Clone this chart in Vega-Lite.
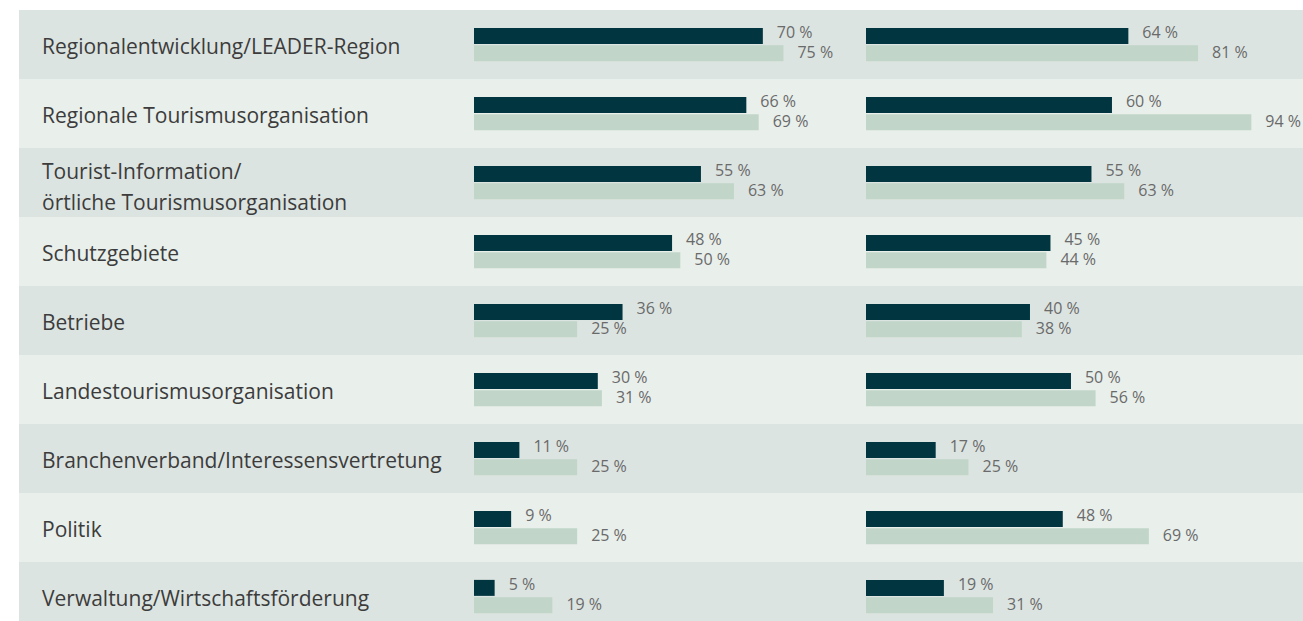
{
  "$schema": "https://vega.github.io/schema/vega-lite/v6.json",
  "padding": {"left": 19, "top": 10, "right": 0, "bottom": 0},
  "background": "#ffffff",
  "config": {
    "view": {"stroke": null},
    "concat": {"spacing": 0},
    "font": "Open Sans",
    "text": {"font": "Open Sans"}
  },
  "datasets": {
    "cats": [
      {"cat": "Regionalentwicklung/LEADER-Region"},
      {"cat": "Regionale Tourismusorganisation"},
      {"cat": "Tourist-Information/\nörtliche Tourismusorganisation"},
      {"cat": "Schutzgebiete"},
      {"cat": "Betriebe"},
      {"cat": "Landestourismusorganisation"},
      {"cat": "Branchenverband/Interessensvertretung"},
      {"cat": "Politik"},
      {"cat": "Verwaltung/Wirtschaftsförderung"}
    ],
    "vals": [
      {"cat": "Regionalentwicklung/LEADER-Region", "panel": "links", "series": "A", "value": 70},
      {"cat": "Regionalentwicklung/LEADER-Region", "panel": "links", "series": "B", "value": 75},
      {"cat": "Regionale Tourismusorganisation", "panel": "links", "series": "A", "value": 66},
      {"cat": "Regionale Tourismusorganisation", "panel": "links", "series": "B", "value": 69},
      {"cat": "Tourist-Information/\nörtliche Tourismusorganisation", "panel": "links", "series": "A", "value": 55},
      {"cat": "Tourist-Information/\nörtliche Tourismusorganisation", "panel": "links", "series": "B", "value": 63},
      {"cat": "Schutzgebiete", "panel": "links", "series": "A", "value": 48},
      {"cat": "Schutzgebiete", "panel": "links", "series": "B", "value": 50},
      {"cat": "Betriebe", "panel": "links", "series": "A", "value": 36},
      {"cat": "Betriebe", "panel": "links", "series": "B", "value": 25},
      {"cat": "Landestourismusorganisation", "panel": "links", "series": "A", "value": 30},
      {"cat": "Landestourismusorganisation", "panel": "links", "series": "B", "value": 31},
      {"cat": "Branchenverband/Interessensvertretung", "panel": "links", "series": "A", "value": 11},
      {"cat": "Branchenverband/Interessensvertretung", "panel": "links", "series": "B", "value": 25},
      {"cat": "Politik", "panel": "links", "series": "A", "value": 9},
      {"cat": "Politik", "panel": "links", "series": "B", "value": 25},
      {"cat": "Verwaltung/Wirtschaftsförderung", "panel": "links", "series": "A", "value": 5},
      {"cat": "Verwaltung/Wirtschaftsförderung", "panel": "links", "series": "B", "value": 19},
      {"cat": "Regionalentwicklung/LEADER-Region", "panel": "rechts", "series": "A", "value": 64},
      {"cat": "Regionalentwicklung/LEADER-Region", "panel": "rechts", "series": "B", "value": 81},
      {"cat": "Regionale Tourismusorganisation", "panel": "rechts", "series": "A", "value": 60},
      {"cat": "Regionale Tourismusorganisation", "panel": "rechts", "series": "B", "value": 94},
      {"cat": "Tourist-Information/\nörtliche Tourismusorganisation", "panel": "rechts", "series": "A", "value": 55},
      {"cat": "Tourist-Information/\nörtliche Tourismusorganisation", "panel": "rechts", "series": "B", "value": 63},
      {"cat": "Schutzgebiete", "panel": "rechts", "series": "A", "value": 45},
      {"cat": "Schutzgebiete", "panel": "rechts", "series": "B", "value": 44},
      {"cat": "Betriebe", "panel": "rechts", "series": "A", "value": 40},
      {"cat": "Betriebe", "panel": "rechts", "series": "B", "value": 38},
      {"cat": "Landestourismusorganisation", "panel": "rechts", "series": "A", "value": 50},
      {"cat": "Landestourismusorganisation", "panel": "rechts", "series": "B", "value": 56},
      {"cat": "Branchenverband/Interessensvertretung", "panel": "rechts", "series": "A", "value": 17},
      {"cat": "Branchenverband/Interessensvertretung", "panel": "rechts", "series": "B", "value": 25},
      {"cat": "Politik", "panel": "rechts", "series": "A", "value": 48},
      {"cat": "Politik", "panel": "rechts", "series": "B", "value": 69},
      {"cat": "Verwaltung/Wirtschaftsförderung", "panel": "rechts", "series": "A", "value": 19},
      {"cat": "Verwaltung/Wirtschaftsförderung", "panel": "rechts", "series": "B", "value": 31}
    ]
  },
  "hconcat": [
    {
      "width": 455,
      "height": 621,
      "data": {"name": "cats"},
      "transform": [
        {"window": [{"op": "row_number", "as": "rn"}]},
        {"calculate": "datum.rn % 2", "as": "shade"}
      ],
      "encoding": {
        "y": {"field": "cat", "type": "nominal", "sort": null, "axis": null,
              "scale": {"paddingInner": 0, "paddingOuter": 0}}
      },
      "layer": [
        {
          "mark": {"type": "rect"},
          "encoding": {
            "x": {"value": 0},
            "x2": {"value": "width"},
            "color": {"field": "shade", "type": "nominal", "legend": null,
                      "scale": {"domain": [1, 0], "range": ["#dce4e1", "#e9efeb"]}}
          }
        },
        {
          "transform": [{"filter": {"not": {"field": "cat", "equal": "Tourist-Information/\nörtliche Tourismusorganisation"}}}],
          "mark": {"type": "text", "align": "left", "baseline": "middle", "fontSize": 21,
                   "dy": 3, "color": "#3c3c3c"},
          "encoding": {
            "x": {"value": 23},
            "text": {"field": "cat"}
          }
        },
        {
          "transform": [{"filter": {"field": "cat", "equal": "Tourist-Information/\nörtliche Tourismusorganisation"}}],
          "mark": {"type": "text", "align": "left", "baseline": "middle", "fontSize": 21,
                   "dy": -10, "color": "#3c3c3c", "lineBreak": "\n", "lineHeight": 31},
          "encoding": {
            "x": {"value": 23},
            "text": {"field": "cat"}
          }
        }
      ]
    },
    {
      "width": 392,
      "height": 621,
      "layer": [
        {
          "data": {"name": "cats"},
          "transform": [
            {"window": [{"op": "row_number", "as": "rn"}]},
            {"calculate": "datum.rn % 2", "as": "shade"}
          ],
          "mark": {"type": "rect"},
          "encoding": {
            "y": {"field": "cat", "type": "nominal", "sort": null, "axis": null,
                  "scale": {"paddingInner": 0, "paddingOuter": 0}},
            "x": {"value": 0},
            "x2": {"value": "width"},
            "color": {"field": "shade", "type": "nominal", "legend": null,
                      "scale": {"domain": [1, 0], "range": ["#dce4e1", "#e9efeb"]}}
          }
        },
        {
          "data": {"name": "vals"},
          "transform": [
            {"filter": "datum.panel === 'links'"},
            {"calculate": "datum.value + ' %'", "as": "label"}
          ],
          "encoding": {
            "y": {"field": "cat", "type": "nominal", "sort": null, "axis": null,
                  "scale": {"paddingInner": 0, "paddingOuter": 0}},
            "yOffset": {"field": "series", "type": "nominal",
                        "scale": {"paddingInner": 0, "paddingOuter": 1.2}},
            "x": {"field": "value", "type": "quantitative", "axis": null,
                  "scale": {"domain": [0, 95], "nice": false}}
          },
          "layer": [
            {
              "mark": {"type": "bar", "size": 16},
              "encoding": {
                "color": {"field": "series", "type": "nominal", "legend": null,
                          "scale": {"domain": ["A", "B"], "range": ["#01353f", "#c1d6c8"]}}
              }
            },
            {
              "transform": [{"filter": "datum.series === 'A'"}],
              "mark": {"type": "text", "align": "left", "baseline": "middle", "dx": 14, "dy": -2.5,
                       "fontSize": 16, "color": "#6a6a6a"},
              "encoding": {"text": {"field": "label"}}
            },
            {
              "transform": [{"filter": "datum.series === 'B'"}],
              "mark": {"type": "text", "align": "left", "baseline": "middle", "dx": 14, "dy": 0,
                       "fontSize": 16, "color": "#6a6a6a"},
              "encoding": {"text": {"field": "label"}}
            }
          ]
        }
      ],
      "resolve": {"scale": {"color": "independent"}}
    },
    {
      "width": 437,
      "height": 621,
      "layer": [
        {
          "data": {"name": "cats"},
          "transform": [
            {"window": [{"op": "row_number", "as": "rn"}]},
            {"calculate": "datum.rn % 2", "as": "shade"}
          ],
          "mark": {"type": "rect"},
          "encoding": {
            "y": {"field": "cat", "type": "nominal", "sort": null, "axis": null,
                  "scale": {"paddingInner": 0, "paddingOuter": 0}},
            "x": {"value": 0},
            "x2": {"value": "width"},
            "color": {"field": "shade", "type": "nominal", "legend": null,
                      "scale": {"domain": [1, 0], "range": ["#dce4e1", "#e9efeb"]}}
          }
        },
        {
          "data": {"name": "vals"},
          "transform": [
            {"filter": "datum.panel === 'rechts'"},
            {"calculate": "datum.value + ' %'", "as": "label"}
          ],
          "encoding": {
            "y": {"field": "cat", "type": "nominal", "sort": null, "axis": null,
                  "scale": {"paddingInner": 0, "paddingOuter": 0}},
            "yOffset": {"field": "series", "type": "nominal",
                        "scale": {"paddingInner": 0, "paddingOuter": 1.2}},
            "x": {"field": "value", "type": "quantitative", "axis": null,
                  "scale": {"domain": [0, 106.6], "nice": false}}
          },
          "layer": [
            {
              "mark": {"type": "bar", "size": 16},
              "encoding": {
                "color": {"field": "series", "type": "nominal", "legend": null,
                          "scale": {"domain": ["A", "B"], "range": ["#01353f", "#c1d6c8"]}}
              }
            },
            {
              "transform": [{"filter": "datum.series === 'A'"}],
              "mark": {"type": "text", "align": "left", "baseline": "middle", "dx": 14, "dy": -2.5,
                       "fontSize": 16, "color": "#6a6a6a"},
              "encoding": {"text": {"field": "label"}}
            },
            {
              "transform": [{"filter": "datum.series === 'B'"}],
              "mark": {"type": "text", "align": "left", "baseline": "middle", "dx": 14, "dy": 0,
                       "fontSize": 16, "color": "#6a6a6a"},
              "encoding": {"text": {"field": "label"}}
            }
          ]
        }
      ],
      "resolve": {"scale": {"color": "independent"}}
    }
  ]
}
